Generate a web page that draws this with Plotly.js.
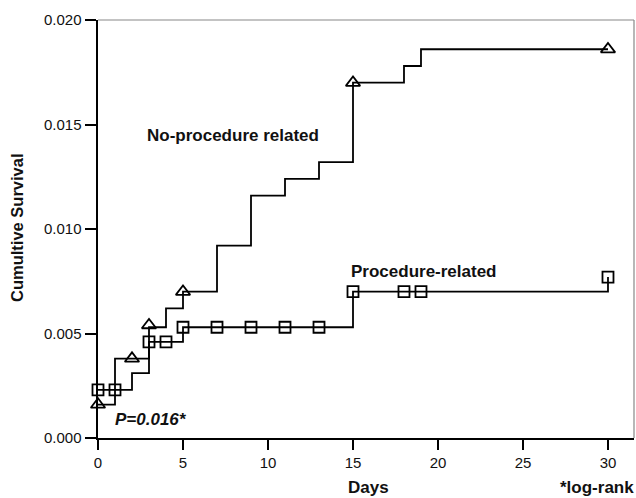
<!DOCTYPE html>
<html>
<head>
<meta charset="utf-8">
<script src="https://cdn.plot.ly/plotly-3.0.1.min.js"></script>
<style>html,body{margin:0;padding:0;background:#fff;}#chart{width:636px;height:498px;}</style>
</head>
<body>
<div id="chart"></div>
<script>
// Step curves (event times and cumulative values)
const noProcDays = [0, 1, 3, 4, 5, 7, 9, 11, 13, 15, 18, 19, 30];
const noProcValues = [0.0016, 0.0038, 0.0053, 0.0062, 0.0070, 0.0092, 0.0116, 0.0124, 0.0132, 0.0170, 0.0178, 0.0186, 0.0186];
const procDays = [0, 2, 3, 5, 15, 30];
const procValues = [0.0023, 0.0031, 0.0046, 0.0053, 0.0070, 0.0077];
// Censor markers
const noProcMarkDays = [0, 2, 3, 5, 15, 30];
const noProcMarkValues = [0.0016, 0.0038, 0.0054, 0.0070, 0.0170, 0.0186];
const procMarkDays = [0, 1, 3, 4, 5, 7, 9, 11, 13, 15, 18, 19, 30];
const procMarkValues = [0.0023, 0.0023, 0.0046, 0.0046, 0.0053, 0.0053, 0.0053, 0.0053, 0.0053, 0.0070, 0.0070, 0.0070, 0.0077];
const xTicks = [0, 5, 10, 15, 20, 25, 30];
const yTicks = [0, 0.005, 0.010, 0.015, 0.020];
const yTickLabels = ['0.000', '0.005', '0.010', '0.015', '0.020'];

const F = 'Arial, "Liberation Sans", Helvetica, sans-serif';
const traces = [
  {x: noProcDays, y: noProcValues, mode: 'lines', line: {shape: 'hv', color: '#000', width: 1.8}, hoverinfo: 'skip'},
  {x: procDays, y: procValues, mode: 'lines', line: {shape: 'hv', color: '#000', width: 1.8}, hoverinfo: 'skip'},
  {x: noProcMarkDays, y: noProcMarkValues, mode: 'markers', cliponaxis: false,
   marker: {symbol: 'triangle-up-open', size: 12.5, color: '#000', line: {width: 1.8, color: '#000'}}},
  {x: procMarkDays, y: procMarkValues, mode: 'markers', cliponaxis: false,
   marker: {symbol: 'square-open', size: 11, color: '#000', line: {width: 1.8, color: '#000'}}}
];
const layout = {
  width: 636, height: 498,
  margin: {l: 98, r: 2, t: 20, b: 60, pad: 0},
  paper_bgcolor: '#fff', plot_bgcolor: '#fff',
  showlegend: false,
  font: {family: F, size: 15, color: '#111'},
  xaxis: {
    range: [0, 31.53], tickvals: xTicks, ticktext: xTicks.map(String),
    ticks: 'outside', ticklen: 10, tickwidth: 2, tickcolor: '#000',
    showline: true, linecolor: '#000', linewidth: 2, showgrid: false, zeroline: false,
    tickfont: {family: F, size: 15, color: '#111'}, fixedrange: true
  },
  yaxis: {
    range: [0, 0.020], tickvals: yTicks, ticktext: yTickLabels,
    ticks: 'outside', ticklen: 11, tickwidth: 2, tickcolor: '#000',
    showline: true, linecolor: '#000', linewidth: 2.5, showgrid: false, zeroline: false,
    tickfont: {family: F, size: 15, color: '#111'}, fixedrange: true
  },
  shapes: [
    {type: 'line', xref: 'paper', yref: 'paper', x0: 0, x1: 1, y0: 1, y1: 1, line: {color: '#888', width: 1.2}},
    {type: 'line', xref: 'paper', yref: 'paper', x0: 1, x1: 1, y0: 0, y1: 1, line: {color: '#888', width: 1.2}},
    {type: 'line', xref: 'paper', yref: 'paper', x0: -0.02, x1: 0, y0: 0, y1: 0, line: {color: '#000', width: 2}}
  ],
  annotations: [
    {text: '<b>No-procedure related</b>', x: 2.75, y: 0.01447, xref: 'x', yref: 'y', xanchor: 'left', yanchor: 'middle', showarrow: false, font: {family: F, size: 17, color: '#111'}},
    {text: '<b>Procedure-related</b>', x: 14.75, y: 0.00795, xref: 'x', yref: 'y', xanchor: 'left', yanchor: 'middle', showarrow: false, font: {family: F, size: 17, color: '#111'}},
    {text: '<b><i>P=0.016*</i></b>', x: 0.9, y: 0.00087, xref: 'x', yref: 'y', xanchor: 'left', yanchor: 'middle', showarrow: false, font: {family: F, size: 17, color: '#111'}},
    {text: '<b>Days</b>', x: 346, y: 11, xref: 'paper', yref: 'paper', showarrow: false, xanchor: 'left', yanchor: 'middle', font: {family: F, size: 17, color: '#111'}},
    {text: '<b>*log-rank</b>', x: 558, y: 11, xref: 'paper', yref: 'paper', showarrow: false, xanchor: 'left', yanchor: 'middle', font: {family: F, size: 17, color: '#111'}},
    {text: '<b>Cumultive Survival</b>', x: 17, y: 270, xref: 'paper', yref: 'paper', showarrow: false, textangle: -90, xanchor: 'center', yanchor: 'middle', font: {family: F, size: 16.5, color: '#111'}}
  ]
};
// convert pixel-positioned paper annotations (x from left of page, y from bottom of page)
const plotW = 636 - 98 - 2, plotH = 498 - 20 - 60;
layout.annotations.forEach(a => {
  if (a.xref === 'paper') {
    a.x = (a.x - 98) / plotW;
    a.y = (a.y - 60) / plotH;
  }
});
Plotly.newPlot('chart', traces, layout, {displayModeBar: false, staticPlot: true});
</script>
</body>
</html>
